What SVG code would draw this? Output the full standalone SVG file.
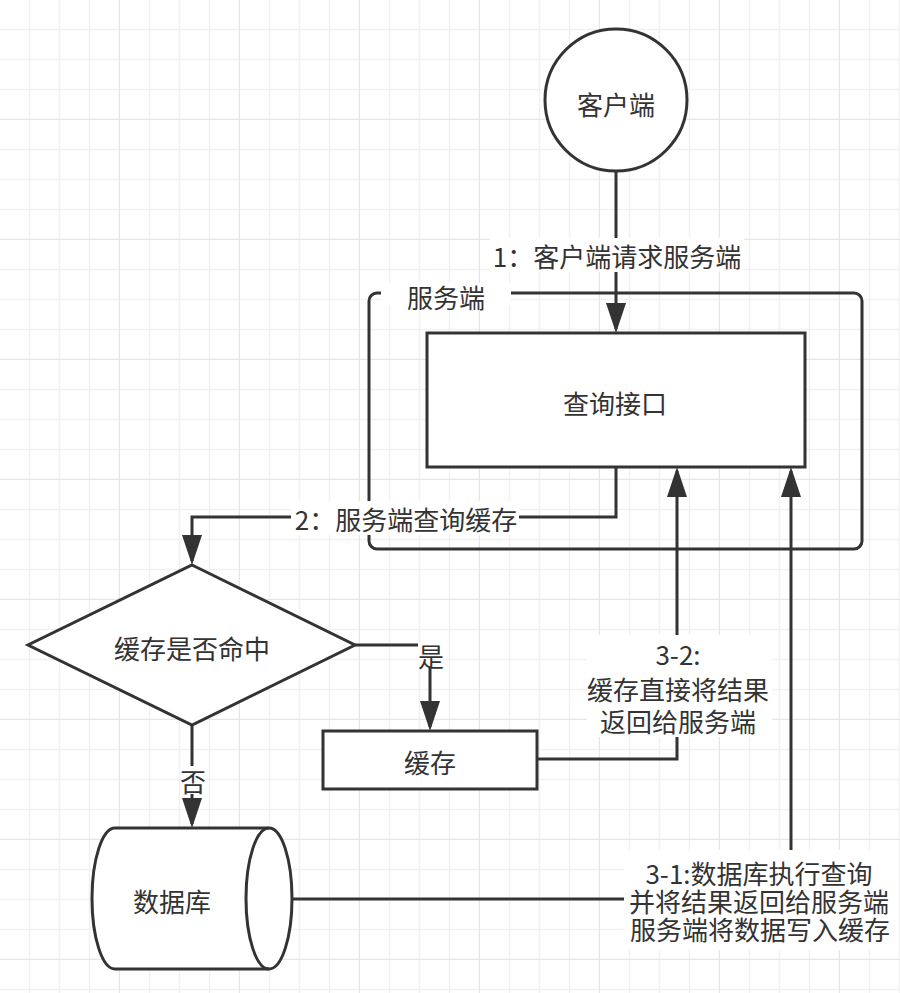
<svg xmlns="http://www.w3.org/2000/svg" width="900" height="993" viewBox="0 0 900 993">
<defs>
<pattern id="grid" x="0" y="0" width="120" height="120" patternUnits="userSpaceOnUse">
<path d="M29.5,0V120M59.5,0V120M89.5,0V120M0,29.5H120M0,59.5H120M0,89.5H120" stroke="#f1f1f1" stroke-width="1.5" fill="none"/>
<path d="M119.5,0V120M0,119.5H120" stroke="#e6e6e6" stroke-width="1.5" fill="none"/>
</pattern>
<marker id="arr" viewBox="0 0 30 20" refX="26" refY="10" markerWidth="30" markerHeight="20" markerUnits="userSpaceOnUse" orient="auto">
<path d="M0,0L30,10L0,20Z" fill="#333"/>
</marker>
<style>
.shape{fill:#fff;stroke:#333;stroke-width:3}
.edge{fill:none;stroke:#333;stroke-width:3}
.t{font-family:"Noto Sans CJK SC","Noto Sans",sans-serif;font-size:26px;fill:#333;text-anchor:middle;dominant-baseline:central}
.lbl{fill:#fff}
</style>
</defs>
<rect width="900" height="993" fill="#fff"/>
<rect width="900" height="993" fill="url(#grid)"/>

<g id="server">
<rect x="369" y="293" width="493" height="256" rx="8" ry="8" fill="none" stroke="#333" stroke-width="3"/>
<rect x="381" y="283" width="130" height="22" fill="#fff"/>
<text class="t" x="446" y="296">服务端</text>
</g>

<g id="client">
<circle class="shape" cx="616" cy="100" r="71"/>
<text class="t" x="616" y="103">客户端</text>
</g>

<g id="query">
<rect class="shape" x="427" y="333" width="378" height="134"/>
<text class="t" x="615" y="402">查询接口</text>
</g>

<g id="decision">
<polygon class="shape" points="192,565 355,645 192,725 28,645"/>
<text class="t" x="192" y="647">缓存是否命中</text>
</g>

<g id="cache">
<rect class="shape" x="323" y="731" width="214" height="58"/>
<text class="t" x="430" y="761">缓存</text>
</g>

<g id="database">
<path class="shape" d="M115,828H269A23,70.5 0 0 1 269,969H115A23,70.5 0 0 1 115,828Z"/>
<path class="edge" d="M269,828A23,70.5 0 0 0 269,969"/>
<text class="t" x="172" y="900">数据库</text>
</g>

<g id="connectors">
<path class="edge" d="M616,171V329" marker-end="url(#arr)"/>
<path class="edge" d="M616,467V517H192V561" marker-end="url(#arr)"/>
<path class="edge" d="M355,645H430V727" marker-end="url(#arr)"/>
<path class="edge" d="M192,725V824" marker-end="url(#arr)"/>
<path class="edge" d="M537,759H677V471" marker-end="url(#arr)"/>
<path class="edge" d="M292,899H791V471" marker-end="url(#arr)"/>

<rect class="lbl" x="490" y="238" width="254" height="34"/>
<text class="t" x="617" y="255">1：客户端请求服务端</text>

<rect class="lbl" x="291" y="501" width="228" height="34"/>
<text class="t" x="406" y="518">2：服务端查询缓存</text>

<rect class="lbl" x="418" y="642" width="25" height="26"/>
<text class="t" x="431" y="655">是</text>

<rect class="lbl" x="181" y="766" width="25" height="28"/>
<text class="t" x="193" y="780">否</text>

<rect class="lbl" x="587" y="635" width="185" height="102"/>
<text class="t" x="678" y="653">3-2:<tspan x="678" dy="35">缓存直接将结果</tspan><tspan x="678" dy="32">返回给服务端</tspan></text>

<rect class="lbl" x="624" y="850" width="275" height="100"/>
<text class="t" x="759" y="872">3-1:数据库执行查询<tspan x="759" dy="28">并将结果返回给服务端</tspan><tspan x="760" dy="28">服务端将数据写入缓存</tspan></text>
</g>
</svg>
